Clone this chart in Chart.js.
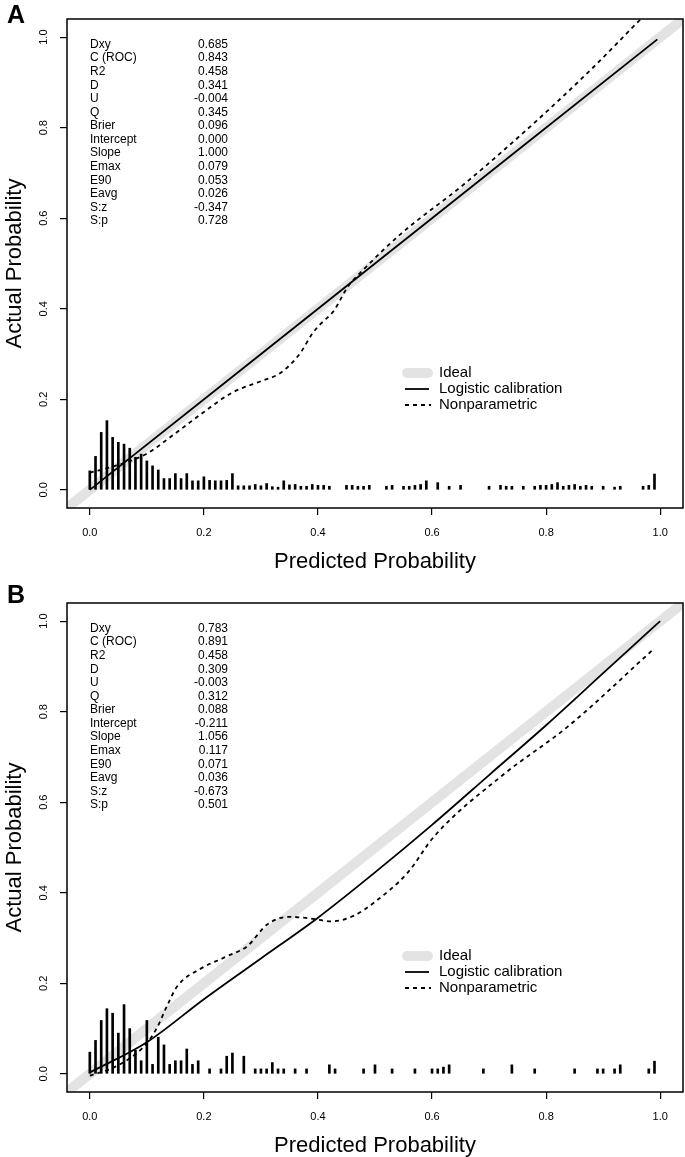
<!DOCTYPE html>
<html>
<head>
<meta charset="utf-8">
<script src="https://cdn.jsdelivr.net/npm/chart.js@4.4.1/dist/chart.umd.min.js"></script>
<style>
  body { margin: 0; background: #fff; }
  .panel { position: relative; width: 685px; }
</style>
</head>
<body>
<div class="panel"><canvas id="chartA" width="685" height="584"></canvas></div>
<div class="panel"><canvas id="chartB" width="685" height="573"></canvas></div>
<script>
// axis ticks
var xTicks = [0, 0.2, 0.4, 0.6, 0.8, 1.0];
var yTicks = [0, 0.2, 0.4, 0.6, 0.8, 1.0];

// ideal line (abline 0,1 across the plot region)
var idealX = [-0.04, 1.04];
var idealY = [-0.04, 1.04];

var statNames = ['Dxy', 'C (ROC)', 'R2', 'D', 'U', 'Q', 'Brier', 'Intercept', 'Slope', 'Emax', 'E90', 'Eavg', 'S:z', 'S:p'];
var statsA = ['0.685', '0.843', '0.458', '0.341', '-0.004', '0.345', '0.096', '0.000', '1.000', '0.079', '0.053', '0.026', '-0.347', '0.728'];
var statsB = ['0.783', '0.891', '0.458', '0.309', '-0.003', '0.312', '0.088', '-0.211', '1.056', '0.117', '0.071', '0.036', '-0.673', '0.501'];

var legendLabels = ['Ideal', 'Logistic calibration', 'Nonparametric'];

// panel A
var logisticAx = [0.0, 0.25, 0.5, 0.75, 0.995];
var logisticAy = [0.0, 0.25, 0.5, 0.75, 0.995];
var nonparAx = [0.0, 0.05, 0.1, 0.15, 0.2, 0.25, 0.3, 0.33, 0.35, 0.37, 0.39, 0.405, 0.428, 0.452, 0.481, 0.546, 0.657, 0.784, 0.88, 0.966];
var nonparAy = [0.038, 0.055, 0.08, 0.125, 0.172, 0.215, 0.24, 0.255, 0.275, 0.304, 0.345, 0.367, 0.396, 0.448, 0.488, 0.566, 0.676, 0.816, 0.93, 1.04];
var spikeAx = [0.00, 0.01, 0.02, 0.03, 0.04, 0.05, 0.06, 0.07, 0.08, 0.09, 0.10, 0.11, 0.12, 0.13, 0.14, 0.15, 0.16, 0.17, 0.18, 0.19,
  0.20, 0.21, 0.22, 0.23, 0.24, 0.25, 0.26, 0.27, 0.28, 0.29, 0.30, 0.31, 0.32, 0.33, 0.34, 0.35, 0.36, 0.37, 0.38, 0.39,
  0.40, 0.41, 0.42, 0.45, 0.46, 0.47, 0.48, 0.49, 0.52, 0.53, 0.55, 0.56, 0.57, 0.58, 0.59, 0.61, 0.63, 0.65, 0.70, 0.72,
  0.73, 0.74, 0.76, 0.78, 0.79, 0.80, 0.81, 0.82, 0.83, 0.84, 0.85, 0.86, 0.87, 0.88, 0.90, 0.92, 0.93, 0.97, 0.98, 0.99];
var spikeAh = [0.042, 0.074, 0.127, 0.153, 0.116, 0.105, 0.101, 0.092, 0.072, 0.079, 0.064, 0.053, 0.044, 0.025, 0.025, 0.036, 0.025, 0.036, 0.020, 0.020,
  0.029, 0.021, 0.020, 0.020, 0.021, 0.036, 0.009, 0.009, 0.009, 0.012, 0.009, 0.014, 0.007, 0.006, 0.020, 0.011, 0.012, 0.008, 0.008, 0.012,
  0.010, 0.010, 0.008, 0.010, 0.010, 0.008, 0.008, 0.010, 0.008, 0.010, 0.008, 0.008, 0.010, 0.012, 0.020, 0.016, 0.008, 0.010, 0.008, 0.010,
  0.008, 0.008, 0.008, 0.008, 0.010, 0.010, 0.012, 0.016, 0.008, 0.010, 0.012, 0.008, 0.010, 0.008, 0.008, 0.006, 0.008, 0.008, 0.010, 0.035];

// panel B
var logisticBx = [0.0, 0.1, 0.2, 0.3, 0.4, 0.5, 0.6, 0.7, 0.8, 0.9, 1.0];
var logisticBy = [0.003, 0.07, 0.165, 0.255, 0.345, 0.445, 0.55, 0.66, 0.77, 0.885, 1.0];
var nonparBx = [0.0, 0.045, 0.092, 0.117, 0.135, 0.153, 0.194, 0.241, 0.276, 0.311, 0.349, 0.382, 0.425, 0.464, 0.5, 0.557, 0.604, 0.722, 0.839, 0.99];
var nonparBy = [-0.004, 0.016, 0.057, 0.1, 0.149, 0.193, 0.232, 0.26, 0.282, 0.33, 0.347, 0.344, 0.337, 0.35, 0.38, 0.444, 0.525, 0.658, 0.768, 0.94];
var spikeBx = [0.00, 0.01, 0.02, 0.03, 0.04, 0.05, 0.06, 0.07, 0.08, 0.09, 0.10, 0.11, 0.12, 0.13, 0.14, 0.15, 0.16, 0.17, 0.18, 0.19,
  0.21, 0.23, 0.24, 0.25, 0.27, 0.29, 0.30, 0.31, 0.32, 0.33, 0.34, 0.36, 0.38, 0.42, 0.43, 0.48, 0.50, 0.53, 0.57, 0.60,
  0.61, 0.62, 0.63, 0.69, 0.74, 0.78, 0.85, 0.89, 0.90, 0.92, 0.93, 0.98, 0.99];
var spikeBh = [0.048, 0.074, 0.118, 0.144, 0.134, 0.090, 0.153, 0.100, 0.052, 0.029, 0.118, 0.021, 0.081, 0.064, 0.021, 0.029, 0.029, 0.055, 0.021, 0.029,
  0.011, 0.011, 0.039, 0.046, 0.039, 0.011, 0.011, 0.011, 0.025, 0.011, 0.011, 0.011, 0.011, 0.020, 0.011, 0.011, 0.020, 0.011, 0.011, 0.011,
  0.011, 0.015, 0.020, 0.011, 0.020, 0.011, 0.011, 0.011, 0.011, 0.011, 0.020, 0.011, 0.028];

var FONT = '"Liberation Sans", Arial, Helvetica, sans-serif';
var IDEAL_COL = '#e3e3e3';

function pts(xs, ys) {
  return xs.map(function (x, i) { return {x: x, y: ys[i]}; });
}
function spikes(xs, hs) {
  return xs.map(function (x, i) { return {x: x, y: [0, hs[i]]}; });
}

// box, stats table, legend and panel letter
var calibFrame = {
  id: 'calibFrame',
  afterDatasetsDraw: function (chart, args, o) {
    var ctx = chart.ctx, a = chart.chartArea;
    ctx.save();
    ctx.strokeStyle = '#000';
    ctx.lineWidth = 1.5;
    ctx.strokeRect(a.left, a.top, a.right - a.left, a.bottom - a.top);

    ctx.fillStyle = '#000';
    ctx.textBaseline = 'middle';
    ctx.font = '12px ' + FONT;
    o.stats.forEach(function (v, i) {
      var y = o.statTop + i * 13.58;
      ctx.textAlign = 'left';
      ctx.fillText(statNames[i], 90, y);
      ctx.textAlign = 'right';
      ctx.fillText(v, 228, y);
    });

    // legend
    var lx0 = 402, lx1 = 433, tx = 439;
    ctx.lineCap = 'round';
    ctx.strokeStyle = IDEAL_COL;
    ctx.lineWidth = 10;
    ctx.beginPath(); ctx.moveTo(lx0 + 5, o.legTop); ctx.lineTo(lx1 - 5, o.legTop); ctx.stroke();
    ctx.lineCap = 'butt';
    ctx.strokeStyle = '#000';
    ctx.lineWidth = 1.8;
    ctx.beginPath(); ctx.moveTo(405, o.legTop + 16); ctx.lineTo(429, o.legTop + 16); ctx.stroke();
    ctx.setLineDash([4, 4]);
    ctx.beginPath(); ctx.moveTo(405, o.legTop + 32); ctx.lineTo(431, o.legTop + 32); ctx.stroke();
    ctx.setLineDash([]);
    ctx.font = '15px ' + FONT;
    ctx.textAlign = 'left';
    legendLabels.forEach(function (t, i) { ctx.fillText(t, tx, o.legTop + i * 16); });

    ctx.font = 'bold 25px ' + FONT;
    ctx.fillText(o.letter, 7, o.letterY);
    ctx.restore();
  }
};

function makePanel(id, letter, stats, lx, ly, nx, ny, sx, sh, p) {
  new Chart(document.getElementById(id), {
    type: 'scatter',
    data: {
      datasets: [
        {type: 'line', data: pts(idealX, idealY), borderColor: IDEAL_COL, borderWidth: 10,
         pointRadius: 0, clip: 0, order: 4},
        {type: 'bar', data: spikes(sx, sh), backgroundColor: '#000', barThickness: 2,
         grouped: false, order: 3},
        {type: 'line', data: pts(lx, ly), borderColor: '#000', borderWidth: 1.8,
         pointRadius: 0, cubicInterpolationMode: 'monotone', order: 2},
        {type: 'line', data: pts(nx, ny), borderColor: '#000', borderWidth: 1.8, borderDash: [4, 4],
         pointRadius: 0, cubicInterpolationMode: 'monotone', order: 1}
      ]
    },
    options: {
      responsive: false,
      animation: false,
      events: [],
      layout: {padding: {left: 0, right: 2, top: 19, bottom: 0}},
      plugins: {
        legend: {display: false},
        tooltip: {enabled: false},
        calibFrame: {stats: stats, statTop: 44.5, legTop: p.legTop, letter: letter, letterY: p.letterY}
      },
      scales: {
        x: {
          type: 'linear', min: -0.04, max: 1.04, offset: false,
          afterBuildTicks: function (s) { s.ticks = xTicks.map(function (v) { return {value: v}; }); },
          afterFit: function (s) { s.height = p.xHeight; },
          grid: {drawOnChartArea: false, drawTicks: true, tickLength: 7, color: '#000', lineWidth: 1.2, offset: false},
          border: {display: false},
          ticks: {color: '#000', padding: 11, font: {family: FONT, size: 11},
                  callback: function (v) { return v.toFixed(1); }},
          title: {display: true, text: 'Predicted Probability', color: '#000',
                  font: {family: FONT, size: 22, lineHeight: 1}, padding: {top: 0, bottom: p.titlePad}}
        },
        y: {
          type: 'linear', min: -0.04, max: 1.04,
          afterBuildTicks: function (s) { s.ticks = yTicks.map(function (v) { return {value: v}; }); },
          afterFit: function (s) { s.width = 67; },
          grid: {drawOnChartArea: false, drawTicks: true, tickLength: 7, color: '#000', lineWidth: 1.2},
          border: {display: false},
          ticks: {color: '#000', padding: 8, minRotation: 90, maxRotation: 90, crossAlign: 'center',
                  font: {family: FONT, size: 11},
                  callback: function (v) { return v.toFixed(1); }},
          title: {display: true, text: 'Actual Probability', color: '#000',
                  font: {family: FONT, size: 22, lineHeight: 1}, padding: {top: 4, bottom: 0}}
        }
      }
    },
    plugins: [calibFrame]
  });
}

makePanel('chartA', 'A', statsA, logisticAx, logisticAy, nonparAx, nonparAy, spikeAx, spikeAh,
  {xHeight: 76, titlePad: 11, legTop: 373, letterY: 16});
makePanel('chartB', 'B', statsB, logisticBx, logisticBy, nonparBx, nonparBy, spikeBx, spikeBh,
  {xHeight: 65, titlePad: 0, legTop: 372, letterY: 12});
</script>
</body>
</html>
